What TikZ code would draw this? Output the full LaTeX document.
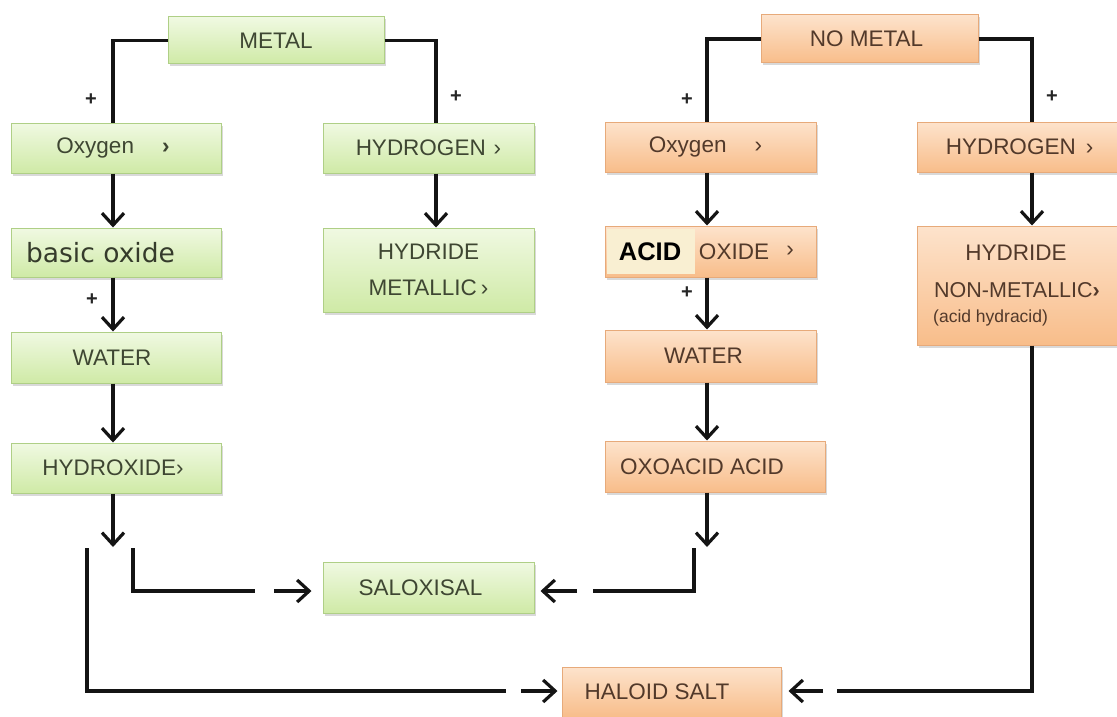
\documentclass[tikz,border=0pt]{standalone}
\usepackage{fontspec}
\setmainfont{Liberation Sans}
\newfontfamily\djv{DejaVu Sans}
\usetikzlibrary{arrows.meta,shadows,calc}
\definecolor{gtop}{HTML}{F0F9E2}
\definecolor{gbot}{HTML}{CFEAA6}
\definecolor{gbrd}{HTML}{AFCF86}
\definecolor{otop}{HTML}{FDE3CC}
\definecolor{obot}{HTML}{F8BD8A}
\definecolor{obrd}{HTML}{E7AA7A}
\definecolor{gtxt}{HTML}{3E4632}
\definecolor{otxt}{HTML}{52392A}
\definecolor{acidbg}{HTML}{F9EFD2}
\tikzset{
  shad/.style={drop shadow={shadow xshift=1.5pt,shadow yshift=-2.5pt,opacity=0.3}},
  gbox/.style={draw=gbrd, line width=1pt, top color=gtop, bottom color=gbot, text=gtxt, shad,
    inner sep=0pt, font=\fontsize{22.5}{26}\selectfont},
  obox/.style={draw=obrd, line width=1pt, top color=otop, bottom color=obot, text=otxt, shad,
    inner sep=0pt, font=\fontsize{22.5}{26}\selectfont},
  otext/.style={inner sep=0pt, text=otxt, font=\fontsize{22.5}{26}\selectfont},
  ln/.style={line width=3.2pt, draw=black!92},
  arr/.style={ln, -{Straight Barb[length=12pt,width=22pt]}},
  plus/.style={inner sep=0pt, text=black!85, font=\bfseries\fontsize{20}{22}\selectfont},
}
\begin{document}
\begin{tikzpicture}[x=1pt,y=-1pt]
\useasboundingbox (0,0) rectangle (1117,717);
\clip (0,0) rectangle (1117,717);
% column coordinates
\coordinate (cA) at (113,0);
\coordinate (cB) at (436,0);
\coordinate (cC) at (707,0);
\coordinate (cD) at (1032,0);
% green boxes
\node[gbox, minimum width=216pt, minimum height=47pt] (metal) at (276,40.5) {METAL};
\node[gbox, minimum width=210pt, minimum height=50pt] (oxyL) at (116,148) {\kern-6pt Oxygen\hspace{28pt}{\bfseries ›}};
\node[gbox, minimum width=211pt, minimum height=50pt] (hydL) at (428.5,148) {HYDROGEN\hspace{8pt}›};
\node[gbox, minimum width=210pt, minimum height=49pt, text=gtxt!85!black] (basic) at (116,252.5) {\djv\fontsize{26.5}{30}\selectfont basic oxide\kern31pt};
\node[gbox, minimum width=211pt, minimum height=84pt, align=center, font=\fontsize{22.5}{36}\selectfont] (hydrideM) at (428.5,270) {HYDRIDE\\METALLIC\hspace{4pt}›};
\node[gbox, minimum width=210pt, minimum height=51pt] (waterL) at (116,357.5) {WATER\kern8pt};
\node[gbox, minimum width=210pt, minimum height=50pt] (hydroxide) at (116,468) {HYDROXIDE›\kern6pt};
\node[gbox, minimum width=211pt, minimum height=51pt] (salox) at (428.5,587.5) {SALOXISAL\kern16pt};
% orange boxes
\node[obox, minimum width=217pt, minimum height=48pt] (nometal) at (869.5,39) {NO METAL\kern6pt};
\node[obox, minimum width=211pt, minimum height=50pt] (oxyR) at (710.5,147) {Oxygen\hspace{28pt}›\kern10pt};
\node[obox, minimum width=205pt, minimum height=50pt] (hydR) at (1019.5,147) {HYDROGEN\hspace{10pt}›};
\node[obox, minimum width=211pt, minimum height=51pt] (acidox) at (710.5,251.5) {};
\node[fill=acidbg, minimum width=88pt, minimum height=45pt, inner sep=0pt] (acidbgbox) at (651,251.5) {};
\node[inner sep=0pt, text=black, font=\bfseries\fontsize{25.5}{28}\selectfont] (acidT) at (650,251.5) {ACID};
\node[otext] (oxideT) at (734,251.5) {OXIDE};
\node[otext] (acidArr) at (790,251.5) {›};
\node[obox, minimum width=205pt, minimum height=119pt] (hydNM) at (1019.5,285.5) {};
\node[otext] (hnm1) at (1016,253) {HYDRIDE};
\node[otext, font=\fontsize{21.5}{25}\selectfont] (hnm2) at (1017,290) {NON-METALLIC{\bfseries ›}};
\node[otext, anchor=west, font=\fontsize{17.5}{20}\selectfont] (hnm3) at (933,318) {(acid hydracid)};
\node[obox, minimum width=211pt, minimum height=52pt] (waterR) at (710.5,356) {WATER\kern14pt};
\node[obox, minimum width=220pt, minimum height=51pt] (oxoacid) at (715,466.5) {OXOACID ACID\kern26pt};
\node[obox, minimum width=219pt, minimum height=50pt] (haloid) at (671.5,692) {HALOID SALT\kern29pt};
% plus signs
\node[plus] (p1) at (91,100) {+};
\node[plus] (p2) at (456,97) {+};
\node[plus] (p3) at (92,300) {+};
\node[plus] (p4) at (687,100) {+};
\node[plus] (p5) at (1052,97) {+};
\node[plus] (p6) at (687,293) {+};
% left connectors
\draw[ln] (metal.west) -| (oxyL.north -| cA);
\draw[ln] (metal.east) -| (hydL.north -| cB);
\draw[arr] (oxyL.south -| cA) -- (basic.north -| cA);
\draw[arr] (hydL.south -| cB) -- (hydrideM.north -| cB);
\draw[arr] (basic.south -| cA) -- (waterL.north -| cA);
\draw[arr] (waterL.south -| cA) -- (hydroxide.north -| cA);
\coordinate (hxEnd) at (113,547);
\draw[arr] (hydroxide.south -| cA) -- (hxEnd);
\coordinate (l1a) at (87,548);
\coordinate (l1b) at (506,691);
\coordinate (l1c) at (521,691);
\draw[ln] (l1a) |- (l1b);
\draw[arr, shorten >=4pt] (l1c) -- (l1c -| haloid.west);
\coordinate (l2a) at (133,548);
\coordinate (l2b) at (255,591);
\coordinate (l2c) at (274,591);
\draw[ln] (l2a) |- (l2b);
\draw[arr, shorten >=11pt] (l2c) -- (l2c -| salox.west);
% right connectors
\draw[ln] (nometal.west) -| (oxyR.north -| cC);
\draw[ln] (nometal.east) -| (hydR.north -| cD);
\draw[arr] (oxyR.south -| cC) -- (acidox.north -| cC);
\draw[arr] (hydR.south -| cD) -- (hydNM.north -| cD);
\draw[arr] (acidox.south -| cC) -- (waterR.north -| cC);
\draw[arr] (waterR.south -| cC) -- (oxoacid.north -| cC);
\coordinate (oxEnd) at (707,547);
\draw[arr] (oxoacid.south -| cC) -- (oxEnd);
\coordinate (r2a) at (694,548);
\coordinate (r2b) at (593,591);
\coordinate (r2c) at (577,591);
\draw[ln] (r2a) |- (r2b);
\draw[arr, shorten >=6pt] (r2c) -- (r2c -| salox.east);
\coordinate (r1b) at (837,691);
\coordinate (r1c) at (823,691);
\draw[ln] (hydNM.south -| cD) |- (r1b);
\draw[arr, shorten >=7pt] (r1c) -- (r1c -| haloid.east);
\end{tikzpicture}
\end{document}
